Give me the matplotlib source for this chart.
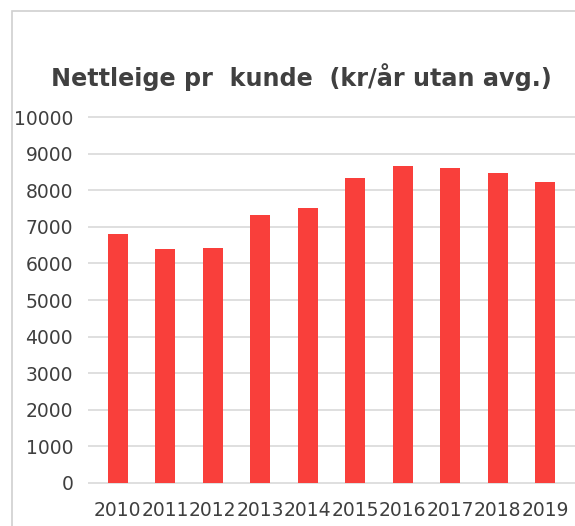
import matplotlib
matplotlib.use("Agg")
import matplotlib.pyplot as plt
from matplotlib.patches import Rectangle

years = ["2010", "2011", "2012", "2013", "2014", "2015", "2016", "2017", "2018", "2019"]
values = [6800, 6400, 6420, 7320, 7520, 8330, 8650, 8600, 8470, 8215]
yticks = [0, 1000, 2000, 3000, 4000, 5000, 6000, 7000, 8000, 9000, 10000]
title = "Nettleige pr  kunde  (kr/år utan avg.)"

W, H = 575, 526
fig = plt.figure(figsize=(W / 100, H / 100), dpi=100)
fig.patch.set_facecolor("white")

# chart frame
fig.patches.append(Rectangle((12 / W, -0.01), 1.0, 1 - 11 / H + 0.01, transform=fig.transFigure,
                             fill=False, edgecolor="#d0d0d0", linewidth=1.2))

ax_l, ax_r = 94, 569
ax = fig.add_axes([ax_l / W, 1 - 483 / H, (ax_r - ax_l) / W, (483 - 117) / H])
x = list(range(len(years)))
ax.bar(x, values, width=0.42, color="#F93F3B", zorder=3)
ax.set_xlim(-0.5, len(years) - 0.5)
ax.set_ylim(0, 10000)
ax.set_yticks(yticks)
ax.set_yticklabels([str(v) for v in yticks])
ax.set_xticks(x)
ax.set_xticklabels(years)
ax.grid(False)
gx0 = (88 - ax_l) / (ax_r - ax_l)
gx1 = (575 - ax_l) / (ax_r - ax_l)
ax.hlines(yticks, gx0, gx1, transform=ax.get_yaxis_transform(), colors="#d9d9d9",
          linewidth=1.2, zorder=0, clip_on=False)
for s in ax.spines.values():
    s.set_visible(False)
ax.tick_params(axis="both", length=0, labelsize=13.5, labelcolor="#3f3f3f")
ax.tick_params(axis="y", pad=15)
ax.tick_params(axis="x", pad=13)

fig.text(301 / W, 1 - 77 / H, title, ha="center", va="center", fontsize=17.2,
         fontweight="bold", color="#404040")

fig.savefig("out.png", dpi=100)
